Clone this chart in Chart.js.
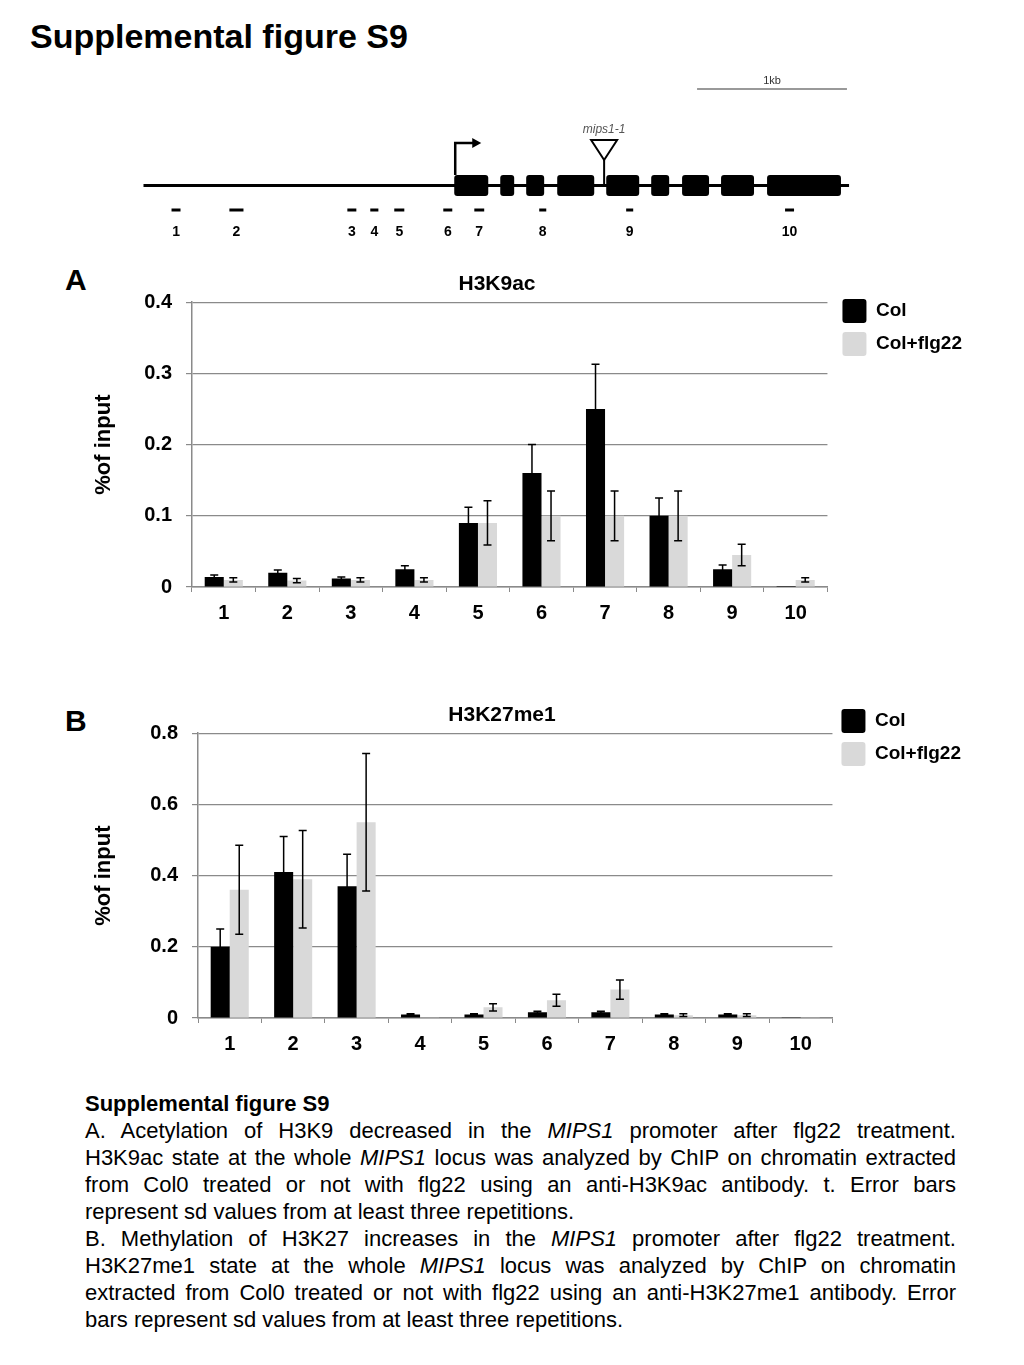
<!DOCTYPE html>
<html>
<head>
<meta charset="utf-8">
<title>Supplemental figure S9</title>
<script src="https://cdn.jsdelivr.net/npm/chart.js@4.4.0/dist/chart.umd.min.js"></script>
<style>
    body { margin: 0; background: #fff; font-family: "Liberation Sans", Arial, sans-serif; color: #000; }
    #page { position: relative; width: 1024px; height: 1365px; overflow: hidden; }
    .abs { position: absolute; }
    #pageTitle { left: 30px; top: 20px; font-size: 34px; line-height: 33px; font-weight: bold; }
    .panel { font-size: 30px; line-height: 30px; font-weight: bold; }
    #caption { left: 85px; top: 1090px; width: 871px; font-size: 22px; line-height: 27px; }
    #caption .j { text-align: justify; text-align-last: justify; }
    #caption .l { text-align: left; }
</style>
</head>
<body>
<div id="page">
    <div id="pageTitle" class="abs">Supplemental figure S9</div>

    <div class="abs" style="left:130px;top:70px;width:730px;height:180px;"><canvas id="geneChart"></canvas></div>

    <div class="abs panel" style="left:65px;top:265px;">A</div>
    <div class="abs" style="left:22px;top:262px;width:950px;height:365px;"><canvas id="chartA"></canvas></div>

    <div class="abs panel" style="left:65px;top:706px;">B</div>
    <div class="abs" style="left:33px;top:693px;width:938px;height:365px;"><canvas id="chartB"></canvas></div>

    <div id="caption" class="abs">
        <div class="l"><b>Supplemental figure S9</b></div>
        <div class="j">A. Acetylation of H3K9 decreased in the <i>MIPS1</i> promoter after flg22 treatment.</div>
        <div class="j">H3K9ac state at the whole <i>MIPS1</i> locus was analyzed by ChIP on chromatin extracted</div>
        <div class="j">from Col0 treated or not with flg22 using an anti-H3K9ac antibody. t. Error bars</div>
        <div class="l">represent sd values from at least three repetitions.</div>
        <div class="j">B. Methylation of H3K27 increases in the <i>MIPS1</i> promoter after flg22 treatment.</div>
        <div class="j">H3K27me1 state at the whole <i>MIPS1</i> locus was analyzed by ChIP on chromatin</div>
        <div class="j">extracted from Col0 treated or not with flg22 using an anti-H3K27me1 antibody. Error</div>
        <div class="l">bars represent sd values from at least three repetitions.</div>
    </div>
</div>

<script>
// ---- data ----
const regions = ["1", "2", "3", "4", "5", "6", "7", "8", "9", "10"];
const seriesNames = ["Col", "Col+flg22"];

// H3K9ac (% of input)
const colA = [0.014, 0.020, 0.012, 0.025, 0.090, 0.160, 0.250, 0.100, 0.025, 0.0015];
const colErrA = [0.003, 0.004, 0.002, 0.005, 0.022, 0.040, 0.063, 0.025, 0.006, 0];
const flgA = [0.010, 0.009, 0.010, 0.010, 0.090, 0.100, 0.100, 0.100, 0.045, 0.010];
const flgErrA = [0.003, 0.003, 0.003, 0.003, 0.031, 0.035, 0.035, 0.035, 0.015, 0.003];
const yTicksA = [0, 0.1, 0.2, 0.3, 0.4];

// H3K27me1 (% of input)
const colB = [0.20, 0.41, 0.37, 0.010, 0.010, 0.016, 0.016, 0.010, 0.010, 0.002];
const colErrB = [0.05, 0.10, 0.09, 0.002, 0.002, 0.003, 0.003, 0.002, 0.002, 0];
const flgB = [0.36, 0.39, 0.55, 0.002, 0.030, 0.050, 0.080, 0.008, 0.008, 0.002];
const flgErrB = [0.125, 0.137, 0.193, 0, 0.010, 0.017, 0.027, 0.004, 0.004, 0];
const yTicksB = [0, 0.2, 0.4, 0.6, 0.8];

// MIPS1 locus map (bp from left end of drawn region)
const locusEnd = 4707;
const exonStart = [2073, 2380, 2553, 2760, 3087, 3387, 3593, 3853, 4160];
const exonEnd = [2300, 2473, 2673, 3007, 3307, 3507, 3773, 4073, 4653];
const tssPos = 2073;
const insertPos = 3073;
const insertName = "mips1-1";
const probeStart = [187, 573, 1360, 1513, 1673, 2000, 2207, 2640, 3220, 4280];
const probeEnd = [247, 667, 1420, 1567, 1740, 2060, 2273, 2687, 3267, 4340];
const scaleBar = [3693, 4693];
const scaleLabel = "1kb";

const FONT = '"Liberation Sans", Arial, sans-serif';
Chart.defaults.font.family = FONT;
Chart.defaults.color = "#000";

// ---- gene map ----
// vertical levels of the schematic (in the hidden y scale, top = 0)
const LV = { bar: 19, barText: 11, insText: 60, insTop: 70, insTip: 90, arrowTop: 73, exonTop: 105, line: 115.5, exonBot: 126, probe: 140, probeText: 162 };

const genePlugin = {
    id: "geneMap",
    afterDatasetsDraw(chart) {
        const { ctx, scales: { x, y } } = chart;
        ctx.save();
        ctx.fillStyle = "#000";
        // exons
        exonStart.forEach((s, i) => {
            const x0 = x.getPixelForValue(s), x1 = x.getPixelForValue(exonEnd[i]);
            const y0 = y.getPixelForValue(LV.exonTop), y1 = y.getPixelForValue(LV.exonBot);
            ctx.beginPath();
            ctx.roundRect(x0, y0, x1 - x0, y1 - y0, 3);
            ctx.fill();
        });
        // transcription start arrow
        const tx = x.getPixelForValue(tssPos);
        ctx.strokeStyle = "#000";
        ctx.lineWidth = 2.5;
        ctx.beginPath();
        ctx.moveTo(tx + 1, y.getPixelForValue(LV.exonTop));
        ctx.lineTo(tx + 1, y.getPixelForValue(LV.arrowTop));
        ctx.lineTo(tx + 20, y.getPixelForValue(LV.arrowTop));
        ctx.stroke();
        ctx.beginPath();
        ctx.moveTo(tx + 27, y.getPixelForValue(LV.arrowTop));
        ctx.lineTo(tx + 18, y.getPixelForValue(LV.arrowTop) - 5);
        ctx.lineTo(tx + 18, y.getPixelForValue(LV.arrowTop) + 5);
        ctx.closePath();
        ctx.fill();
        // T-DNA insertion
        const ix = x.getPixelForValue(insertPos);
        ctx.lineWidth = 2;
        ctx.beginPath();
        ctx.moveTo(ix, y.getPixelForValue(LV.line));
        ctx.lineTo(ix, y.getPixelForValue(LV.insTip));
        ctx.stroke();
        ctx.beginPath();
        ctx.moveTo(ix - 13, y.getPixelForValue(LV.insTop));
        ctx.lineTo(ix + 13, y.getPixelForValue(LV.insTop));
        ctx.lineTo(ix, y.getPixelForValue(LV.insTip));
        ctx.closePath();
        ctx.fillStyle = "#fff";
        ctx.fill();
        ctx.stroke();
        ctx.fillStyle = "#555";
        ctx.font = "italic 12px " + FONT;
        ctx.textAlign = "center";
        ctx.textBaseline = "middle";
        ctx.fillText(insertName, ix, y.getPixelForValue(LV.insText));
        // scale bar
        ctx.strokeStyle = "#777";
        ctx.lineWidth = 1.5;
        ctx.beginPath();
        ctx.moveTo(x.getPixelForValue(scaleBar[0]), y.getPixelForValue(LV.bar));
        ctx.lineTo(x.getPixelForValue(scaleBar[1]), y.getPixelForValue(LV.bar));
        ctx.stroke();
        ctx.fillStyle = "#333";
        ctx.font = "11px " + FONT;
        ctx.fillText(scaleLabel, x.getPixelForValue((scaleBar[0] + scaleBar[1]) / 2), y.getPixelForValue(LV.barText));
        // probe numbers
        ctx.fillStyle = "#000";
        ctx.font = "bold 14px " + FONT;
        regions.forEach((r, i) => {
            ctx.fillText(r, x.getPixelForValue((probeStart[i] + probeEnd[i]) / 2), y.getPixelForValue(LV.probeText));
        });
        ctx.restore();
    }
};

new Chart(document.getElementById("geneChart"), {
    type: "scatter",
    data: {
        datasets: [{
            type: "line",
            data: [{ x: 0, y: LV.line }, { x: locusEnd, y: LV.line }],
            borderColor: "#000",
            borderWidth: 3,
            pointRadius: 0
        }, {
            data: probeStart.map((s, i) => ({ x: (s + probeEnd[i]) / 2, y: LV.probe })),
            pointStyle: "line",
            borderColor: "#000",
            borderWidth: 3,
            radius: (c) => {
                const sx = c.chart.scales.x;
                const i = c.dataIndex;
                return (sx.getPixelForValue(probeEnd[i]) - sx.getPixelForValue(probeStart[i])) / 2;
            }
        }]
    },
    options: {
        responsive: true,
        maintainAspectRatio: false,
        animation: false,
        events: [],
        layout: { padding: 0 },
        scales: {
            x: { type: "linear", min: -90, max: 4780, display: false },
            y: { type: "linear", min: 0, max: 180, reverse: true, display: false }
        },
        plugins: { legend: { display: false }, tooltip: { enabled: false } }
    },
    plugins: [genePlugin]
});

// ---- bar charts with error bars ----
const errorBars = {
    id: "errorBars",
    afterDatasetsDraw(chart) {
        const { ctx, scales: { y } } = chart;
        ctx.save();
        ctx.strokeStyle = "#000";
        ctx.lineWidth = 1.5;
        chart.data.datasets.forEach((ds, i) => {
            const meta = chart.getDatasetMeta(i);
            meta.data.forEach((bar, j) => {
                const err = ds.errors[j];
                if (!err) return;
                const v = ds.data[j];
                const top = y.getPixelForValue(v + err);
                const bot = y.getPixelForValue(Math.max(v - err, 0));
                ctx.beginPath();
                ctx.moveTo(bar.x, top);
                ctx.lineTo(bar.x, bot);
                ctx.moveTo(bar.x - 4, top);
                ctx.lineTo(bar.x + 4, top);
                ctx.moveTo(bar.x - 4, bot);
                ctx.lineTo(bar.x + 4, bot);
                ctx.stroke();
            });
        });
        ctx.restore();
    }
};

function makeBarChart(id, title, col, colErr, flg, flgErr, yTicks, yWidth, yTitlePad, legendPad, legendGap) {
    return new Chart(document.getElementById(id), {
        type: "bar",
        data: {
            labels: regions,
            datasets: [{
                label: seriesNames[0],
                data: col,
                errors: colErr,
                backgroundColor: "#000",
                borderWidth: 0
            }, {
                label: seriesNames[1],
                data: flg,
                errors: flgErr,
                backgroundColor: "#d9d9d9",
                borderWidth: 0
            }]
        },
        options: {
            responsive: true,
            maintainAspectRatio: false,
            animation: false,
            events: [],
            categoryPercentage: 0.6,
            barPercentage: 1.0,
            layout: { padding: 0 },
            scales: {
                x: {
                    grid: { display: true, drawOnChartArea: false, color: "#8a8a8a", tickLength: 5, offset: true },
                    border: { color: "#8a8a8a", width: 1.5 },
                    ticks: { font: { size: 20, weight: "bold" }, padding: 9 },
                    afterFit: (s) => { s.height = 40; }
                },
                y: {
                    min: yTicks[0],
                    max: yTicks[yTicks.length - 1],
                    afterBuildTicks: (s) => { s.ticks = yTicks.map(v => ({ value: v })); },
                    grid: { color: "#8a8a8a", lineWidth: 1.2, tickLength: 6 },
                    border: { color: "#8a8a8a", width: 1.5 },
                    ticks: { font: { size: 20, weight: "bold" }, padding: 14 },
                    title: { display: true, text: "%of input", font: { size: 22, weight: "bold" }, padding: { top: yTitlePad, bottom: 0 } },
                    afterFit: (s) => { s.width = yWidth; }
                },
                // empty right-hand spacer between plot area and legend
                gap: {
                    type: "linear",
                    position: "right",
                    grid: { display: false },
                    border: { display: false },
                    ticks: { display: false },
                    afterFit: (s) => { s.width = legendGap; }
                }
            },
            plugins: {
                title: {
                    display: true,
                    text: title,
                    font: { size: 21, weight: "bold" },
                    padding: { top: 10, bottom: 5 }
                },
                legend: {
                    position: "right",
                    align: "start",
                    title: { display: true, text: "", font: { size: 5 }, padding: { top: legendPad, bottom: 0 } },
                    labels: {
                        boxWidth: 24,
                        boxHeight: 24,
                        padding: 9,
                        useBorderRadius: true,
                        borderRadius: 3,
                        font: { size: 19, weight: "bold" }
                    }
                },
                tooltip: { enabled: false }
            }
        },
        plugins: [errorBars]
    });
}

makeBarChart("chartA", "H3K9ac", colA, colErrA, flgA, flgErrA, yTicksA, 170, 69, 22, 6);
makeBarChart("chartB", "H3K27me1", colB, colErrB, flgB, flgErrB, yTicksB, 165, 58, 1, 0);
</script>
</body>
</html>
